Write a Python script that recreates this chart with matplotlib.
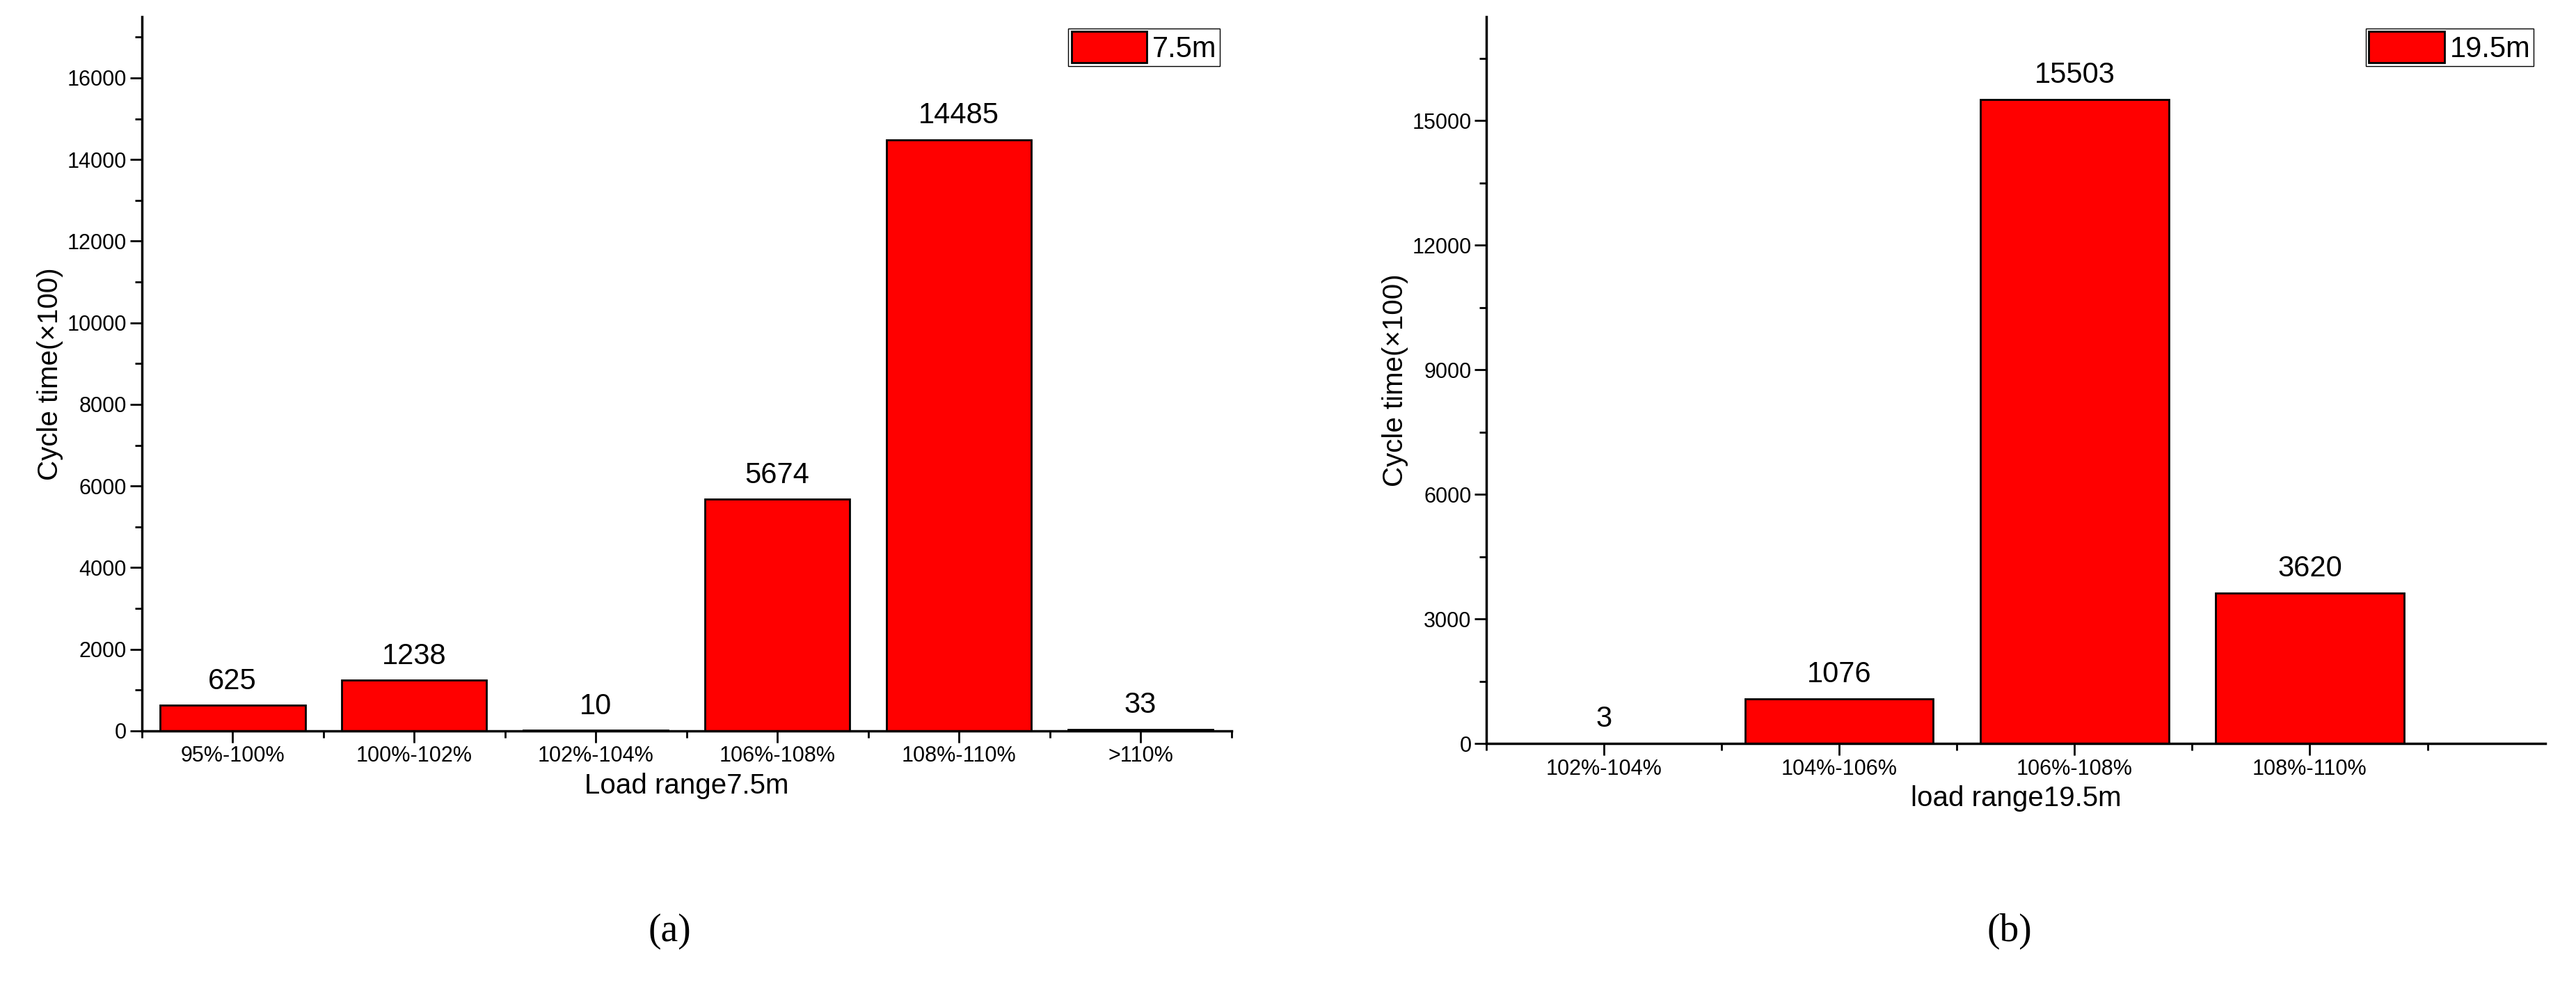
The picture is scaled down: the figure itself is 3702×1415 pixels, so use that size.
import matplotlib.pyplot as plt
from matplotlib.ticker import MultipleLocator, FixedLocator

plt.rcParams['font.family'] = ['Liberation Sans', 'DejaVu Sans']

cats_a = ["95%-100%", "100%-102%", "102%-104%", "106%-108%", "108%-110%", ">110%"]
vals_a = [625, 1238, 10, 5674, 14485, 33]
cats_b = ["102%-104%", "104%-106%", "106%-108%", "108%-110%"]
vals_b = [3, 1076, 15503, 3620]

fig = plt.figure(figsize=(37.02, 14.15), dpi=100)
ax_a = fig.add_axes([0.055, 0.258, 0.423, 0.725])
ax_b = fig.add_axes([0.577, 0.245, 0.411, 0.738])


def draw(ax, cats, vals, label, xlabel, major, xmax):
    x = list(range(len(cats)))
    ax.bar(x, vals, width=0.8, color="#ff0000", edgecolor="black", linewidth=2, label=label)
    for xi, v in zip(x, vals):
        ax.text(xi, v + 250, str(v), ha="center", va="bottom", fontsize=30)
    ax.set_xlim(-0.5, xmax)
    ax.set_ylim(0, 17500)
    ax.set_xticks(x)
    ax.set_xticklabels(cats, fontsize=22)
    ax.xaxis.set_minor_locator(FixedLocator([i + 0.5 for i in range(-1, len(cats))]))
    ax.yaxis.set_major_locator(MultipleLocator(major))
    ax.yaxis.set_minor_locator(MultipleLocator(major / 2))
    ax.tick_params(axis="y", labelsize=22)
    ax.tick_params(which="major", direction="out", length=12, width=2)
    ax.tick_params(which="minor", direction="out", length=7, width=2)
    for s in ["top", "right"]:
        ax.spines[s].set_visible(False)
    for s in ["left", "bottom"]:
        ax.spines[s].set_linewidth(2.5)
    ax.set_ylabel("Cycle time(\u00d7100)", fontsize=29)
    ax.set_xlabel(xlabel, fontsize=29, labelpad=6)
    ax.legend(loc="upper right", fontsize=30, fancybox=False, edgecolor="black",
              framealpha=1, borderpad=0.1, handlelength=2.6, handleheight=1.3,
              handletextpad=0.2, borderaxespad=0.4)


draw(ax_a, cats_a, vals_a, "7.5m", "Load range7.5m", 2000, 5.5)
draw(ax_b, cats_b, vals_b, "19.5m", "load range19.5m", 3000, 4.0)

fig.text(0.26, 0.045, "(a)", ha="center", fontsize=40, family="Liberation Serif")
fig.text(0.78, 0.045, "(b)", ha="center", fontsize=40, family="Liberation Serif")

fig.savefig("out.png", dpi=100)
